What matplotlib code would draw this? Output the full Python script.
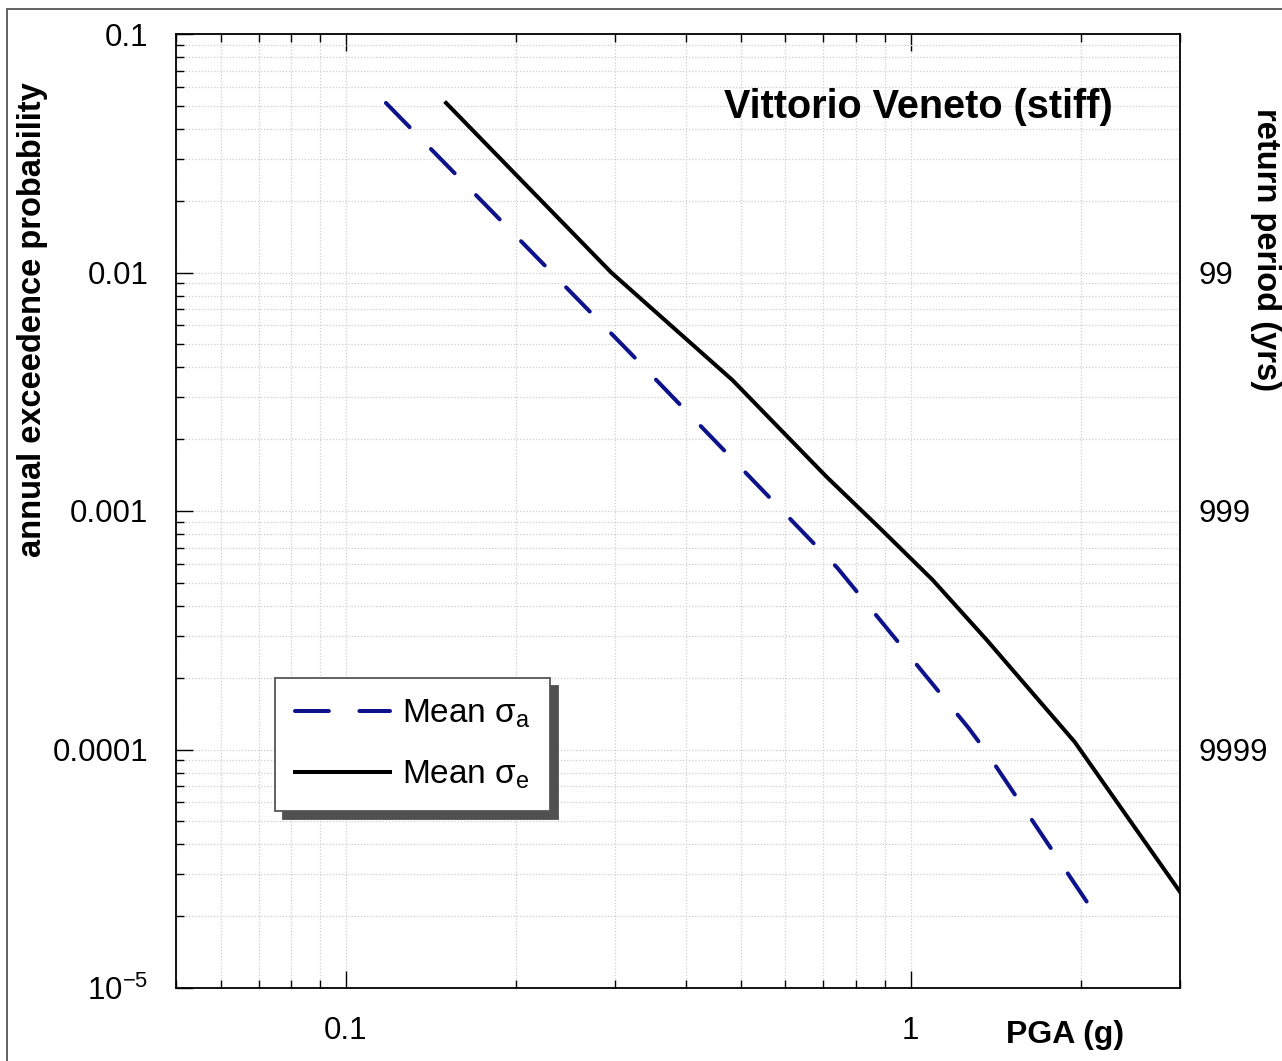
import matplotlib
matplotlib.use("Agg")
import matplotlib.pyplot as plt
from matplotlib.ticker import LogLocator, NullFormatter, FixedLocator, NullLocator
from matplotlib.patches import Rectangle

plt.rcParams['font.family'] = ['Liberation Sans', 'DejaVu Sans']
plt.rcParams['mathtext.fontset'] = 'custom'
plt.rcParams['mathtext.rm'] = 'Liberation Sans'
plt.rcParams['mathtext.it'] = 'Liberation Sans:italic'
plt.rcParams['mathtext.bf'] = 'Liberation Sans:bold'

# ---- data ----
pga_a = [0.1177, 0.3176, 0.4875, 0.742, 1.267, 1.358, 2.137]
prob_a = [0.0514, 0.00464, 0.00162, 0.000577, 0.000123, 9.86e-5, 1.99e-5]
pga_e = [0.1504, 0.295, 0.4835, 0.710, 0.878, 1.094, 1.364, 1.953, 3.0]
prob_e = [0.0514, 0.0100, 0.00354, 0.00139, 0.000857, 0.000514,
          0.000288, 0.0001075, 2.53e-5]
label_a = "Mean σ$_\\mathregular{a}$"
label_e = "Mean σ$_\\mathregular{e}$"
xticks = [0.1, 1]
xticklabels = ['0.1', '1']
yticks = [1e-5, 1e-4, 1e-3, 1e-2, 1e-1]
yticklabels = ['$\\mathregular{10^{-5}}$', '0.0001', '0.001', '0.01', '0.1']
rp_ticks = [1e-2, 1e-3, 1e-4]
rp_labels = ['99', '999', '9999']
title = "Vittorio Veneto (stiff)"
xlabel = "PGA (g)"
ylabel = "annual exceedence probability"
ylabel_r = "return period (yrs)"

W, H = 1282, 1061
fig = plt.figure(figsize=(W / 100, H / 100), dpi=100)
fig.patch.set_facecolor('white')

# outer frame
fig.add_artist(Rectangle((7 / W, -0.05), 1.2, 1 - 9 / H + 0.05, transform=fig.transFigure,
                         fill=False, edgecolor='#555555', linewidth=1.3))

L, R, T, B = 176, 1180, 34, 988
ax = fig.add_axes([L / W, 1 - B / H, (R - L) / W, (B - T) / H])
ax.set_xscale('log')
ax.set_yscale('log')
ax.set_xlim(0.05, 3)
ax.set_ylim(1e-5, 0.1)

ax.plot(pga_a, prob_a, color='#0d128c', linewidth=2.9, dashes=(8.4, 7.6),
        dash_capstyle='round', label=label_a, zorder=3)
ax.plot(pga_e, prob_e, color='black', linewidth=2.9, label=label_e,
        solid_joinstyle='round', zorder=3)

ax.xaxis.set_major_locator(FixedLocator(xticks))
ax.set_xticklabels(xticklabels)
ax.xaxis.set_minor_locator(LogLocator(base=10, subs=[2, 3, 4, 5, 6, 7, 8, 9], numticks=20))
ax.xaxis.set_minor_formatter(NullFormatter())
ax.yaxis.set_major_locator(FixedLocator(yticks))
ax.set_yticklabels(yticklabels)
ax.yaxis.set_minor_locator(LogLocator(base=10, subs=[2, 3, 4, 5, 6, 7, 8, 9], numticks=20))
ax.yaxis.set_minor_formatter(NullFormatter())

ax.tick_params(which='both', direction='in', top=True, right=True, color='black', width=1.0)
ax.tick_params(which='major', length=12)
ax.tick_params(which='minor', length=6)
ax.tick_params(axis='y', which='major', labelsize=22.5, pad=20)
ax.tick_params(axis='x', which='major', labelsize=22.5, pad=20)
for s in ax.spines.values():
    s.set_linewidth(1.3)

ax.grid(True, which='both', linestyle=(0, (1, 1.5)), color='#cfcfcf', linewidth=0.9)
ax.set_axisbelow(True)

axr = ax.twinx()
axr.set_yscale('log')
axr.set_ylim(ax.get_ylim())
axr.yaxis.set_major_locator(FixedLocator(rp_ticks))
axr.set_yticklabels(rp_labels)
axr.yaxis.set_minor_locator(NullLocator())
axr.tick_params(axis='y', length=0, labelsize=22.5, pad=13)
for s in axr.spines.values():
    s.set_visible(False)

ax.text(0.933, 0.9235, title, transform=ax.transAxes, ha='right', va='center',
        fontsize=28.5, fontweight='bold')
fig.text(1065 / W, 1 - 1035 / H, xlabel, ha='center', va='center', fontsize=23,
         fontweight='bold')
fig.text(33 / W, 1 - 320 / H, ylabel, ha='center', va='center', rotation=90,
         fontsize=23.5, fontweight='bold')
fig.text(1265 / W, 1 - 250 / H, ylabel_r, ha='center', va='center', rotation=270,
         fontsize=23.5, fontweight='bold')

leg = axr.legend(*ax.get_legend_handles_labels(),
                 loc='lower left', bbox_to_anchor=((275 - L) / (R - L), (B - 811) / (B - T)),
                 borderaxespad=0, fontsize=24, handlelength=2.85, handletextpad=0.35,
                 borderpad=0.6, labelspacing=0.85, fancybox=False, framealpha=1,
                 shadow={'ox': 5.8, 'oy': -5.8, 'facecolor': '#505050',
                         'edgecolor': '#505050', 'alpha': 1})
leg.get_frame().set_edgecolor('#555555')
leg.get_frame().set_linewidth(1.3)

fig.savefig('out.png', dpi=100, facecolor='white')
